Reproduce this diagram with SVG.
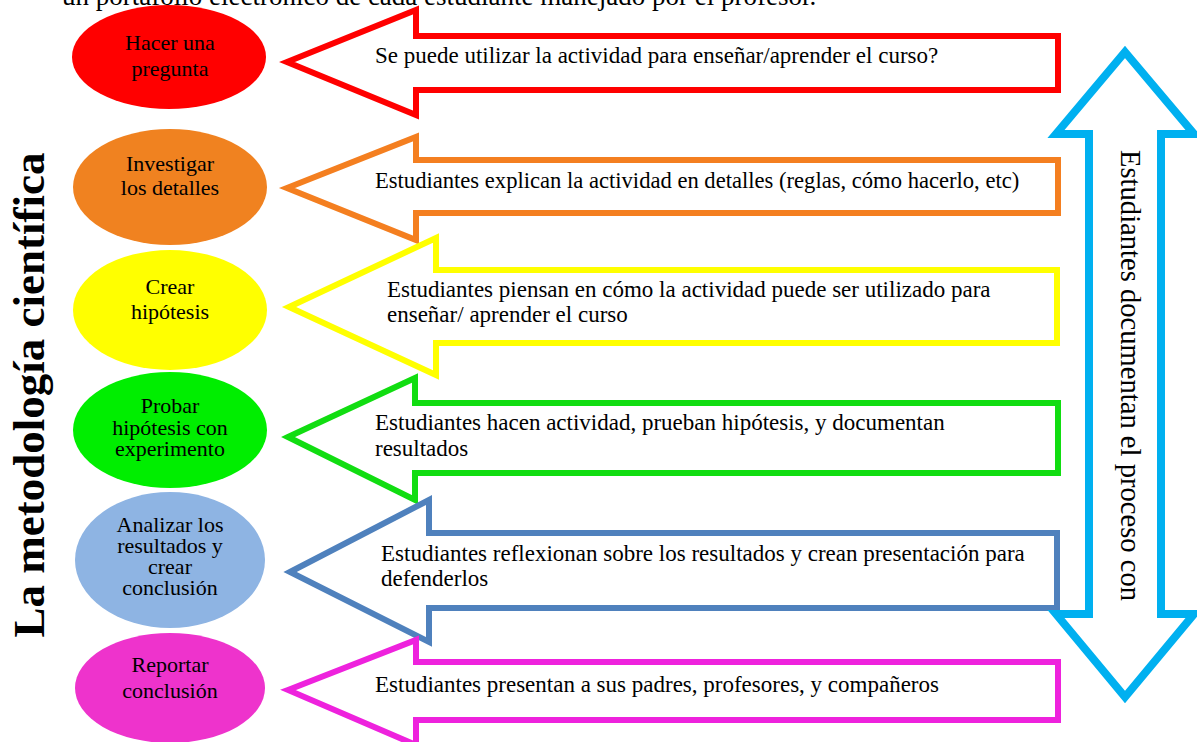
<svg xmlns="http://www.w3.org/2000/svg" width="1197" height="742" viewBox="0 0 1197 742">
<style>
  .t { font-family: "Liberation Serif", "Times New Roman", serif; fill: #000; }
  .et { font-size: 22px; text-anchor: middle; }
  .at { font-size: 23px; }
  .arr { fill: #fff; stroke-width: 6; stroke-linejoin: miter; stroke-miterlimit: 10; }
</style>
<rect width="1197" height="742" fill="#fff"/>
<text class="t" x="62" y="5" font-size="27">un portafolio electrónico de cada estudiante manejado por el profesor.</text>

<g id="title">
  <text class="t" transform="translate(44,395) rotate(-90)" font-size="45" font-weight="bold" text-anchor="middle">La metodología científica</text>
</g>

<g id="arrows">
  <g id="arrow-red">
    <polygon class="arr" stroke="#ff0000" points="287,62 416,10 416,36 1058,36 1058,90 416,90 416,115"/>
    <text class="t at" x="375" y="63">Se puede utilizar la actividad para enseñar/aprender el curso?</text>
  </g>
  <g id="arrow-orange">
    <polygon class="arr" stroke="#f47f20" points="287,188 416,137 416,160 1058,160 1058,213 416,213 416,240"/>
    <text class="t" x="375" y="188" font-size="22.6">Estudiantes explican la actividad en detalles (reglas, cómo hacerlo, etc)</text>
  </g>
  <g id="arrow-yellow">
    <polygon class="arr" stroke="#ffff00" points="289,307 436,238 436,270 1057,270 1057,343 436,343 436,375"/>
    <text class="t at" x="387" y="297">Estudiantes piensan en cómo la actividad puede ser utilizado para<tspan x="387" dy="25">enseñar/ aprender el curso</tspan></text>
  </g>
  <g id="arrow-green">
    <polygon class="arr" stroke="#11dd11" points="288,437 415,378 415,403 1058,403 1058,473 415,473 415,500"/>
    <text class="t at" x="375" y="430">Estudiantes hacen actividad, prueban hipótesis, y documentan<tspan x="375" dy="26">resultados</tspan></text>
  </g>
  <g id="arrow-blue">
    <polygon class="arr" stroke="#4f81bd" points="290,572 429,500 429,533 1057,533 1057,608 429,608 429,642"/>
    <text class="t at" x="381" y="561">Estudiantes reflexionan sobre los resultados y crean presentación para<tspan x="381" dy="25">defenderlos</tspan></text>
  </g>
  <g id="arrow-magenta">
    <polygon class="arr" stroke="#ee22dd" points="288,690 416,640 416,662 1058,662 1058,720 416,720 416,745"/>
    <text class="t at" x="375" y="692">Estudiantes presentan a sus padres, profesores, y compañeros</text>
  </g>
</g>

<g id="arrow-documentation">
  <polygon fill="#fff" stroke="#00b0f0" stroke-width="8" stroke-miterlimit="10" points="1125,52 1194,134 1161,134 1161,614 1194,614 1125,697 1056,614 1089,614 1089,134 1056,134"/>
  <text class="t" transform="translate(1121,150) rotate(90)" font-size="28.6">Estudiantes documentan el proceso con</text>
</g>

<g id="node-pregunta">
  <ellipse cx="169" cy="57" rx="97" ry="52" fill="#ff0000"/>
  <text class="t et" x="170" y="50">Hacer una<tspan x="170" dy="26">pregunta</tspan></text>
</g>
<g id="node-investigar">
  <ellipse cx="170" cy="187" rx="97" ry="58" fill="#f08220"/>
  <text class="t et" x="170" y="171">Investigar<tspan x="170" dy="24">los detalles</tspan></text>
</g>
<g id="node-hipotesis">
  <ellipse cx="170" cy="310" rx="97" ry="60" fill="#ffff00"/>
  <text class="t et" x="170" y="294">Crear<tspan x="170" dy="25">hipótesis</tspan></text>
</g>
<g id="node-probar">
  <ellipse cx="170" cy="430" rx="97" ry="58" fill="#00ee00"/>
  <text class="t et" x="170" y="413" font-size="19">Probar<tspan x="170" dy="22">hipótesis con</tspan><tspan x="170" dy="21">experimento</tspan></text>
</g>
<g id="node-analizar">
  <ellipse cx="170" cy="560" rx="95" ry="68" fill="#8eb4e3"/>
  <text class="t et" x="170" y="532" font-size="16">Analizar los<tspan x="170" dy="21">resultados y</tspan><tspan x="170" dy="21">crear</tspan><tspan x="170" dy="21">conclusión</tspan></text>
</g>
<g id="node-reportar">
  <ellipse cx="170" cy="688" rx="95" ry="55" fill="#ee33cc"/>
  <text class="t et" x="170" y="672">Reportar<tspan x="170" dy="26">conclusión</tspan></text>
</g>
</svg>
